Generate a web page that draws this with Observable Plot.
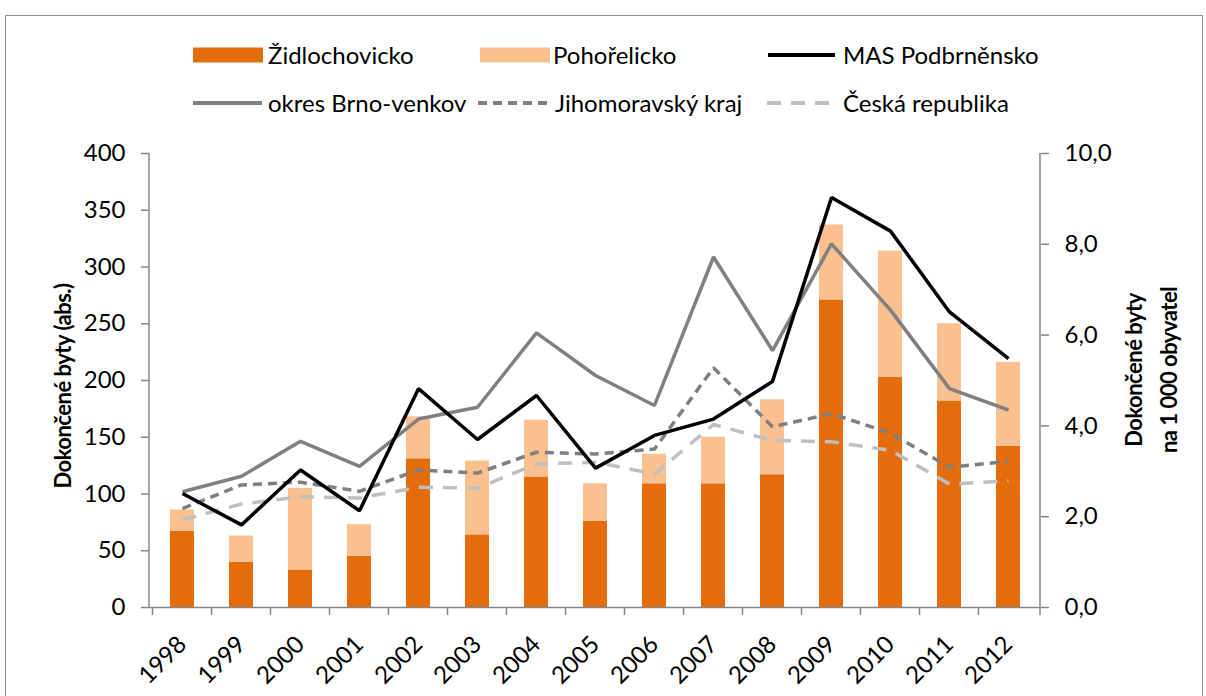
<!DOCTYPE html>
<html><head><meta charset="utf-8">
<script src="https://cdn.jsdelivr.net/npm/d3@7"></script>
<script src="https://cdn.jsdelivr.net/npm/@observablehq/plot@0.6"></script>
<style>
body{margin:0;background:#fff;font-family:Lato,sans-serif;}
#wrap{position:relative;width:1206px;height:696px;overflow:hidden;background:#fff;}
#border{position:absolute;left:5px;top:15px;width:1198px;height:720px;border:1.5px solid #8c8c8c;box-sizing:border-box;}
#chart{position:absolute;left:0;top:0;}
.leg{position:absolute;font-size:24px;color:#000;line-height:1;white-space:nowrap;}
.leg svg{position:absolute;left:0;top:0;overflow:visible;}
.leg span{position:absolute;top:-12px;}
.ytitle{position:absolute;font-weight:bold;font-size:22px;letter-spacing:-0.5px;white-space:nowrap;text-align:center;transform:translate(-50%,-50%) rotate(-90deg);line-height:35px;font-family:Lato,sans-serif;}
</style></head>
<body>
<div id="wrap">
  <div id="border"></div>
  <div id="chart"></div>
  <div id="legend"></div>
  <div class="ytitle" style="left:62px;top:386px;">Dokončené byty (abs.)</div>
  <div class="ytitle" style="left:1151px;top:370px;">Dokončené byty<br>na 1 000 obyvatel</div>
</div>
<script>
// ---- data ----
const years = ["1998","1999","2000","2001","2002","2003","2004","2005","2006","2007","2008","2009","2010","2011","2012"];
const zidlochovicko = [67,40,33,45,131,64,115,76,109,109,117,271,203,182,142];
const pohorelicko   = [19,23,72,28,37,65,50,33,26,41,66,66,111,68,74];
const masPodbrnensko = [2.51,1.82,3.03,2.13,4.82,3.70,4.67,3.07,3.79,4.15,4.98,9.03,8.29,6.51,5.48];
const okresBrnoVenkov = [2.55,2.89,3.66,3.11,4.15,4.41,6.05,5.11,4.45,7.72,5.66,8.01,6.55,4.82,4.35];
const jihomoravskyKraj = [2.18,2.70,2.76,2.56,3.03,2.96,3.42,3.38,3.49,5.28,3.98,4.27,3.84,3.09,3.22];
const ceskaRepublika = [1.93,2.28,2.44,2.41,2.65,2.63,3.16,3.20,2.94,4.03,3.68,3.65,3.46,2.72,2.79];
const leftTicks = [0,50,100,150,200,250,300,350,400];
const rightTicks = [0,2,4,6,8,10];
const barSeries = ["Židlochovicko","Pohořelicko"];
const lineSeries = ["MAS Podbrněnsko","okres Brno-venkov","Jihomoravský kraj","Česká republika"];

// ---- styles ----
const RATIO = 40; // right axis 10 -> left axis 400
const barColors = {"Židlochovicko":"#E46C0A","Pohořelicko":"#FAC090"};
const lineStyles = {
  "MAS Podbrněnsko":  {stroke:"#000000", dash:null},
  "okres Brno-venkov":{stroke:"#808080", dash:null},
  "Jihomoravský kraj":{stroke:"#7f7f7f", dash:"9,6"},
  "Česká republika":  {stroke:"#bfbfbf", dash:"14,10"}
};
const axisColor = "#868686";

const bars = years.flatMap((y,i)=>[
  {year:y, series:barSeries[0], value:zidlochovicko[i]},
  {year:y, series:barSeries[1], value:pohorelicko[i]}
]);
const lineValues = {
  "MAS Podbrněnsko": masPodbrnensko,
  "okres Brno-venkov": okresBrnoVenkov,
  "Jihomoravský kraj": jihomoravskyKraj,
  "Česká republika": ceskaRepublika
};
const lineData = name => years.map((y,i)=>({year:y, value:lineValues[name][i]*RATIO}));

const drawOrder = ["Česká republika","Jihomoravský kraj","okres Brno-venkov","MAS Podbrněnsko"];

const chart = Plot.plot({
  width:1206, height:696,
  marginLeft:149, marginRight:166, marginTop:153, marginBottom:89,
  style:{fontFamily:"Lato, sans-serif", fontSize:"24px", color:"#000", background:"transparent"},
  x:{domain:years, paddingInner:0.6, paddingOuter:0.3, axis:null},
  y:{domain:[0,400], axis:null},
  color:{domain:barSeries, range:barSeries.map(s=>barColors[s])},
  marks:[
    Plot.barY(bars, {x:"year", y:"value", fill:"series", order:barSeries}),
    ...drawOrder.map(name => Plot.line(lineData(name), {
      x:"year", y:"value", stroke:lineStyles[name].stroke, strokeWidth:3.5,
      strokeDasharray:lineStyles[name].dash, strokeLinejoin:"miter", strokeLinecap:"butt"
    })),
    Plot.ruleY([0], {stroke:axisColor, strokeWidth:1.5}),
    Plot.axisY({anchor:"left", ticks:leftTicks, tickSize:8, tickPadding:16, stroke:axisColor, strokeWidth:1.5, fontSize:24, label:null}),
    Plot.axisY({anchor:"right", ticks:rightTicks.map(v=>v*RATIO), tickSize:8, tickPadding:16, stroke:axisColor, strokeWidth:1.5, fontSize:24, label:null,
      tickFormat:d=>(d/RATIO).toFixed(1).replace(".",",")}),
    Plot.axisX({anchor:"bottom", tickSize:0, tickPadding:33, tickRotate:-45, fontSize:24, label:null})
  ]
});
document.getElementById("chart").appendChild(chart);

// axis lines and band-boundary ticks, computed from Plot scales
const sx = chart.scale("x"), sy = chart.scale("y");
const svg = d3.select(chart);
const [x0, x1] = sx.range;
const [yb, yt] = sy.range;
const g = svg.append("g").attr("stroke", axisColor).attr("stroke-width", 1.5);
g.append("line").attr("x1", x0).attr("x2", x0).attr("y1", yt).attr("y2", yb);
g.append("line").attr("x1", x1).attr("x2", x1).attr("y1", yt).attr("y2", yb);
const gap = (sx.step - sx.bandwidth) / 2;
const bounds = years.map(y => sx.apply(y) - gap).concat([x1]);
bounds.forEach(b => g.append("line").attr("x1", b).attr("x2", b).attr("y1", yb).attr("y2", yb + 8));

// ---- legend (HTML) ----
const legendItems = [
  {name:"Židlochovicko", kind:"bar", x:193, w:70, tx:268, cy:55},
  {name:"Pohořelicko", kind:"bar", x:480, w:70, tx:553, cy:55},
  {name:"MAS Podbrněnsko", kind:"line", x:768, w:67, tx:843, cy:55},
  {name:"okres Brno-venkov", kind:"line", x:193, w:69, tx:268, cy:103},
  {name:"Jihomoravský kraj", kind:"line", x:478, w:72, tx:555, cy:103},
  {name:"Česká republika", kind:"line", x:767, w:66, tx:843, cy:103}
];
const leg = document.getElementById("legend");
legendItems.forEach(it => {
  const d = document.createElement("div");
  d.className = "leg";
  d.style.left = it.x + "px";
  d.style.top = it.cy + "px";
  let sw;
  if (it.kind === "bar") {
    sw = `<svg width="${it.w}" height="1"><rect x="0" y="-7.5" width="${it.w}" height="15" fill="${barColors[it.name]}"/></svg>`;
  } else {
    const st = lineStyles[it.name];
    sw = `<svg width="${it.w}" height="1"><line x1="0" x2="${it.w}" y1="0" y2="0" stroke="${st.stroke}" stroke-width="4" ${st.dash ? `stroke-dasharray="${st.dash}"` : ""}/></svg>`;
  }
  d.innerHTML = sw + `<span style="left:${it.tx - it.x}px">${it.name}</span>`;
  leg.appendChild(d);
});
</script>
</body></html>
